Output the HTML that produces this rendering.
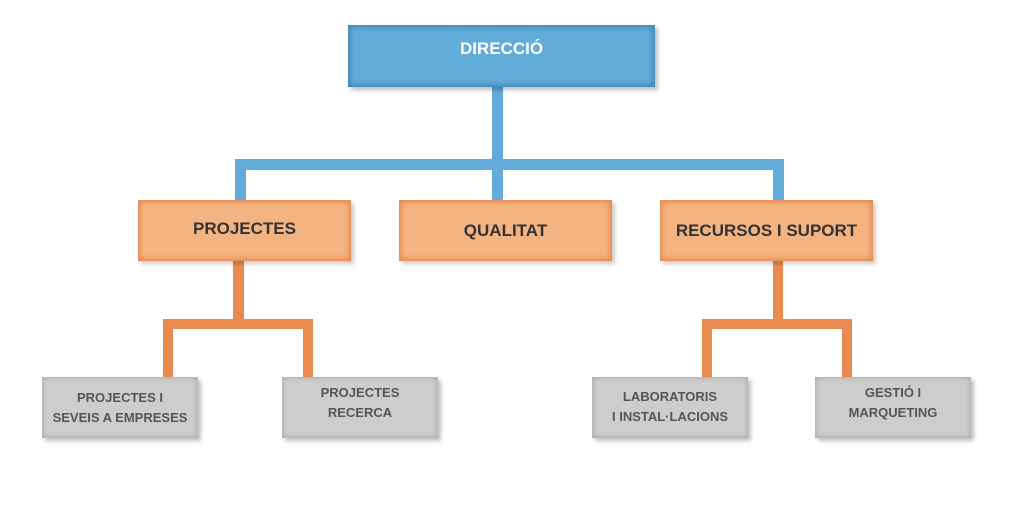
<!DOCTYPE html>
<html><head><style>
body{margin:0;width:1017px;height:532px;background:#fff;position:relative;overflow:hidden;font-family:"Liberation Sans",sans-serif;font-weight:bold}
.l{position:absolute}
.b{background:#63acd9}.o{background:#e98b50}
.box{position:absolute;display:flex;align-items:center;justify-content:center;text-align:center;box-sizing:border-box}
.blue{background:#63acd9;color:#fff;font-size:17px;box-shadow:inset 0 0 6px 2px #3f84b3,3px 3px 4px rgba(0,0,0,.25);align-items:flex-start;padding-top:14px}
.or{background:#f4b482;color:#333;font-size:17px;box-shadow:inset 0 0 6px 2px #e7854a,3px 3px 4px rgba(0,0,0,.2)}
.gr{background:#cfcdcb;color:#555;font-size:13px;line-height:20px;box-shadow:inset 0 0 5px 1px #aaa,3px 3px 4px rgba(0,0,0,.25)}
</style></head><body>
<div class="l b" style="left:492px;top:87px;width:11px;height:113px"></div>
<div class="l b" style="left:235px;top:159px;width:549px;height:11px"></div>
<div class="l b" style="left:235px;top:159px;width:11px;height:41px"></div>
<div class="l b" style="left:773px;top:159px;width:11px;height:41px"></div>

<div class="l o" style="left:233px;top:261px;width:11px;height:60px"></div>
<div class="l o" style="left:163px;top:319px;width:150px;height:10px"></div>
<div class="l o" style="left:163px;top:319px;width:10px;height:58px"></div>
<div class="l o" style="left:303px;top:319px;width:10px;height:58px"></div>

<div class="l o" style="left:773px;top:261px;width:10px;height:60px"></div>
<div class="l o" style="left:702px;top:319px;width:150px;height:10px"></div>
<div class="l o" style="left:702px;top:319px;width:10px;height:58px"></div>
<div class="l o" style="left:842px;top:319px;width:10px;height:58px"></div>

<div class="box blue" style="left:348px;top:25px;width:307px;height:62px">DIRECCIÓ</div>
<div class="box or" style="left:138px;top:200px;width:213px;height:61px;padding-bottom:4px">PROJECTES</div>
<div class="box or" style="left:399px;top:200px;width:213px;height:61px">QUALITAT</div>
<div class="box or" style="left:660px;top:200px;width:213px;height:61px">RECURSOS I SUPORT</div>

<div class="box gr" style="left:42px;top:377px;width:156px;height:61px">PROJECTES I<br>SEVEIS A EMPRESES</div>
<div class="box gr" style="left:282px;top:377px;width:156px;height:61px;padding-bottom:10px">PROJECTES<br>RECERCA</div>
<div class="box gr" style="left:592px;top:377px;width:156px;height:61px;padding-bottom:2px">LABORATORIS<br>I INSTAL·LACIONS</div>
<div class="box gr" style="left:815px;top:377px;width:156px;height:61px;padding-bottom:10px">GESTIÓ I<br>MARQUETING</div>
</body></html>
